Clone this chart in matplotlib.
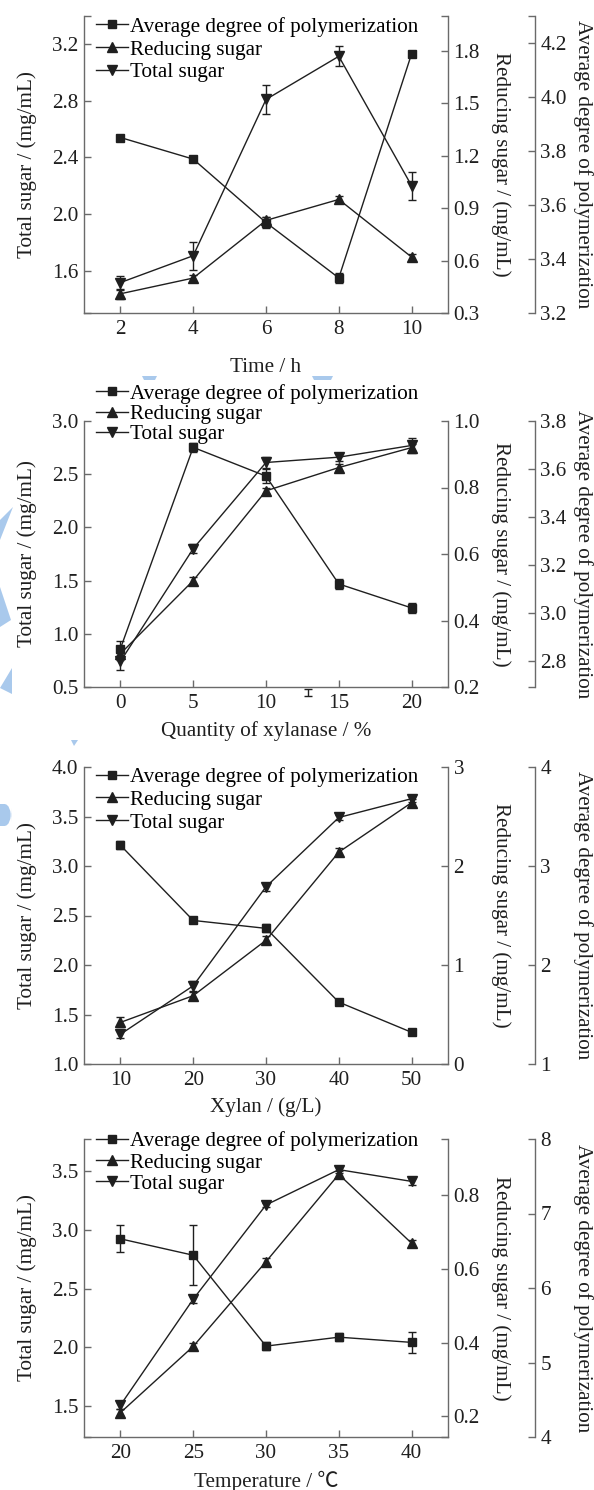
import matplotlib.pyplot as plt
from matplotlib.lines import Line2D
from matplotlib.patches import Polygon, FancyBboxPatch
from matplotlib.ticker import FixedLocator, FormatStrFormatter

plt.rcParams['font.family'] = ['Liberation Serif', 'Noto Sans CJK SC']
FS = 15.2
plt.rcParams['font.size'] = FS

INK = '#1f1f1f'
SPINE = '#6a6a6a'
WATER = '#a9c9ec'

# ---------------- data ----------------
# (a) hydrolysis time
time_h = [2, 4, 6, 8, 10]
time_dp = [3.85, 3.77, 3.535, 3.33, 4.16]
time_dp_err = [0.01, 0.01, 0.02, 0.02, 0.01]
time_rs = [0.41, 0.50, 0.83, 0.95, 0.62]
time_rs_err = [0.03, 0.02, 0.02, 0.02, 0.02]
time_ts = [1.515, 1.705, 2.81, 3.115, 2.20]
time_ts_err = [0.05, 0.10, 0.10, 0.07, 0.10]

# (b) xylanase dosage
enzyme_pct = [0, 5, 10, 15, 20]
enzyme_dp = [2.85, 3.69, 3.57, 3.12, 3.02]
enzyme_dp_err = [0.03, 0.02, 0.03, 0.02, 0.02]
enzyme_rs = [0.30, 0.52, 0.79, 0.86, 0.92]
enzyme_rs_err = [0.02, 0.01, 0.01, 0.01, 0.01]
enzyme_ts = [0.74, 1.80, 2.61, 2.66, 2.77]
enzyme_ts_err = [0.08, 0.04, 0.05, 0.04, 0.07]
stray_x = [12.9]
stray_y = [0.45]
stray_err = [0.035]

# (c) xylan concentration
xylan_gl = [10, 20, 30, 40, 50]
xylan_dp = [3.21, 2.45, 2.37, 1.625, 1.32]
xylan_dp_err = [0.04, 0.03, 0.04, 0.03, 0.03]
xylan_rs = [0.42, 0.69, 1.25, 2.14, 2.64]
xylan_rs_err = [0.05, 0.04, 0.04, 0.04, 0.04]
xylan_ts = [1.30, 1.79, 2.79, 3.49, 3.68]
xylan_ts_err = [0.04, 0.05, 0.04, 0.03, 0.03]

# (d) temperature
temp_c = [20, 25, 30, 35, 40]
temp_dp = [6.66, 6.44, 5.22, 5.34, 5.27]
temp_dp_err = [0.18, 0.40, 0.05, 0.05, 0.14]
temp_rs = [0.21, 0.39, 0.62, 0.857, 0.67]
temp_rs_err = [0.01, 0.01, 0.01, 0.01, 0.01]
temp_ts = [1.51, 2.41, 3.21, 3.51, 3.41]
temp_ts_err = [0.03, 0.03, 0.02, 0.03, 0.03]

series_names = ['Average degree of polymerization', 'Reducing sugar', 'Total sugar']
ts_label = 'Total sugar / (mg/mL)'
rs_label = 'Reducing sugar / (mg/mL)'
dp_label = 'Average degree of polymerization'


def px_to_fig(x, y):
    return x / 594.0, 1 - y / 1490.0


def style_y(a, lim, ticks, fmt):
    a.set_ylim(*lim)
    a.yaxis.set_major_locator(FixedLocator(ticks))
    a.yaxis.set_major_formatter(FormatStrFormatter(fmt))
    caps = [v for v in lim if min(abs(v - t) for t in ticks) > 1e-6]
    a.yaxis.set_minor_locator(FixedLocator(caps))
    a.tick_params(axis='y', which='both', direction='in', length=5, width=1,
                  colors=SPINE, labelcolor=INK, labelsize=FS, pad=4)


def draw_panel(top, bottom, x, dp, dp_err, rs, rs_err, ts, ts_err,
               xlim, xticks, ts_lim, ts_ticks, rs_lim, rs_ticks, rs_fmt,
               dp_lim, dp_ticks, dp_fmt, xlabel, xlabel_y, leg_y, leg_gap):
    left, right = 84, 448
    rect = [left / 594.0, 1 - bottom / 1490.0,
            (right - left) / 594.0, (bottom - top) / 1490.0]
    ax = fig.add_axes(rect)
    ax2 = ax.twinx()
    ax3 = ax.twinx()
    ax3.spines['right'].set_position(('axes', 1.238))

    for a in (ax, ax2, ax3):
        a.spines['top'].set_visible(False)
        for s in a.spines.values():
            s.set_color(SPINE)
            s.set_linewidth(1.0)
    ax.spines['right'].set_visible(False)
    for a in (ax2, ax3):
        a.spines['left'].set_visible(False)
        a.spines['bottom'].set_visible(False)

    ax.set_xlim(*xlim)
    ax.set_xticks(xticks)
    ax.tick_params(axis='x', direction='in', length=5, width=1,
                   colors=SPINE, labelcolor=INK, labelsize=FS, pad=5)

    style_y(ax, ts_lim, ts_ticks, '%.1f')
    style_y(ax2, rs_lim, rs_ticks, rs_fmt)
    style_y(ax3, dp_lim, dp_ticks, dp_fmt)

    eb = dict(color=INK, lw=1.0, elinewidth=1.0, capsize=3, capthick=1.0)
    ax.errorbar(x, ts, yerr=ts_err, marker='v', ms=7, **eb)
    ax2.errorbar(x, rs, yerr=rs_err, marker='^', ms=7, **eb)
    ax3.errorbar(x, dp, yerr=dp_err, marker='s', ms=6, **eb)

    ax.set_xlabel(xlabel, fontsize=FS, color=INK)
    ax.xaxis.set_label_coords(0.5, xlabel_y)
    ax.set_ylabel(ts_label, fontsize=FS, color=INK)
    ax.yaxis.set_label_coords(-0.13, 0.5)
    ax2.set_ylabel(rs_label, fontsize=FS, color=INK, rotation=270, va='center')
    ax2.yaxis.set_label_coords(1.145, 0.5)
    ax3.set_ylabel(dp_label, fontsize=FS, color=INK, rotation=270, va='center')
    ax3.yaxis.set_label_coords(1.372, 0.5)

    handles = [Line2D([], [], color=INK, lw=1.0, marker=m, ms=s)
               for m, s in (('s', 6), ('^', 7), ('v', 7))]
    ax3.legend(handles, series_names, loc='upper left',
               bbox_to_anchor=(0.033, leg_y), frameon=False, borderpad=0,
               borderaxespad=0, handlelength=1.5, handletextpad=0.1,
               labelspacing=leg_gap, fontsize=FS)
    return ax, ax2, ax3


fig = plt.figure(figsize=(5.94, 14.9), dpi=100)

draw_panel(16, 313, time_h, time_dp, time_dp_err, time_rs, time_rs_err,
           time_ts, time_ts_err, (1, 11), time_h,
           (1.3, 3.4), [1.6, 2.0, 2.4, 2.8, 3.2],
           (0.3, 2.0), [0.3, 0.6, 0.9, 1.2, 1.5, 1.8], '%.1f',
           (3.2, 4.3), [3.2, 3.4, 3.6, 3.8, 4.0, 4.2], '%.1f',
           'Time / h', -0.15, 0.997, 0.14)

ax_b, _, _ = draw_panel(421, 687, enzyme_pct, enzyme_dp, enzyme_dp_err,
                        enzyme_rs, enzyme_rs_err, enzyme_ts, enzyme_ts_err,
                        (-2.5, 22.5), enzyme_pct,
                        (0.5, 3.0), [0.5, 1.0, 1.5, 2.0, 2.5, 3.0],
                        (0.2, 1.0), [0.2, 0.4, 0.6, 0.8, 1.0], '%.1f',
                        (2.69, 3.8), [2.8, 3.0, 3.2, 3.4, 3.6, 3.8], '%.1f',
                        'Quantity of xylanase / %', -0.13, 1.14, 0.03)
stray = ax_b.errorbar(stray_x, stray_y, yerr=stray_err, fmt='none',
                      ecolor=INK, elinewidth=1.0, capsize=3, capthick=1.0)
for art in stray.get_children():
    art.set_clip_on(False)

draw_panel(767, 1064, xylan_gl, xylan_dp, xylan_dp_err, xylan_rs, xylan_rs_err,
           xylan_ts, xylan_ts_err, (5, 55), xylan_gl,
           (1.0, 4.0), [1.0, 1.5, 2.0, 2.5, 3.0, 3.5, 4.0],
           (0, 3), [0, 1, 2, 3], '%d',
           (1, 4), [1, 2, 3, 4], '%d',
           'Xylan / (g/L)', -0.113, 1.0, 0.15)

draw_panel(1139, 1437, temp_c, temp_dp, temp_dp_err, temp_rs, temp_rs_err,
           temp_ts, temp_ts_err, (17.5, 42.5), temp_c,
           (1.24, 3.77), [1.5, 2.0, 2.5, 3.0, 3.5],
           (0.144, 0.953), [0.2, 0.4, 0.6, 0.8], '%.1f',
           (4, 8), [4, 5, 6, 7, 8], '%d',
           'Temperature / ℃', -0.115, 1.025, 0.06)

# faint watermark fragments along the left edge
shapes = [
    [(13, 507), (0, 520), (0, 540)],
    [(0, 587), (11, 620), (0, 627)],
    [(12, 668), (12, 694), (0, 688)],
    [(71, 740), (78, 740), (74, 746)],
    [(142, 376), (157, 376), (155, 380), (144, 380)],
    [(312, 376), (333, 376), (331, 380), (314, 380)],
]
for pts in shapes:
    fig.add_artist(Polygon([px_to_fig(*p) for p in pts], closed=True,
                           facecolor=WATER, edgecolor='none'))
bx, by = px_to_fig(0, 826)
fig.add_artist(FancyBboxPatch((bx - 0.02, by), 0.039, 22 / 1490.0,
                              boxstyle='round,pad=0,rounding_size=0.012',
                              facecolor=WATER, edgecolor='none'))

fig.savefig('out.png', dpi=100)
